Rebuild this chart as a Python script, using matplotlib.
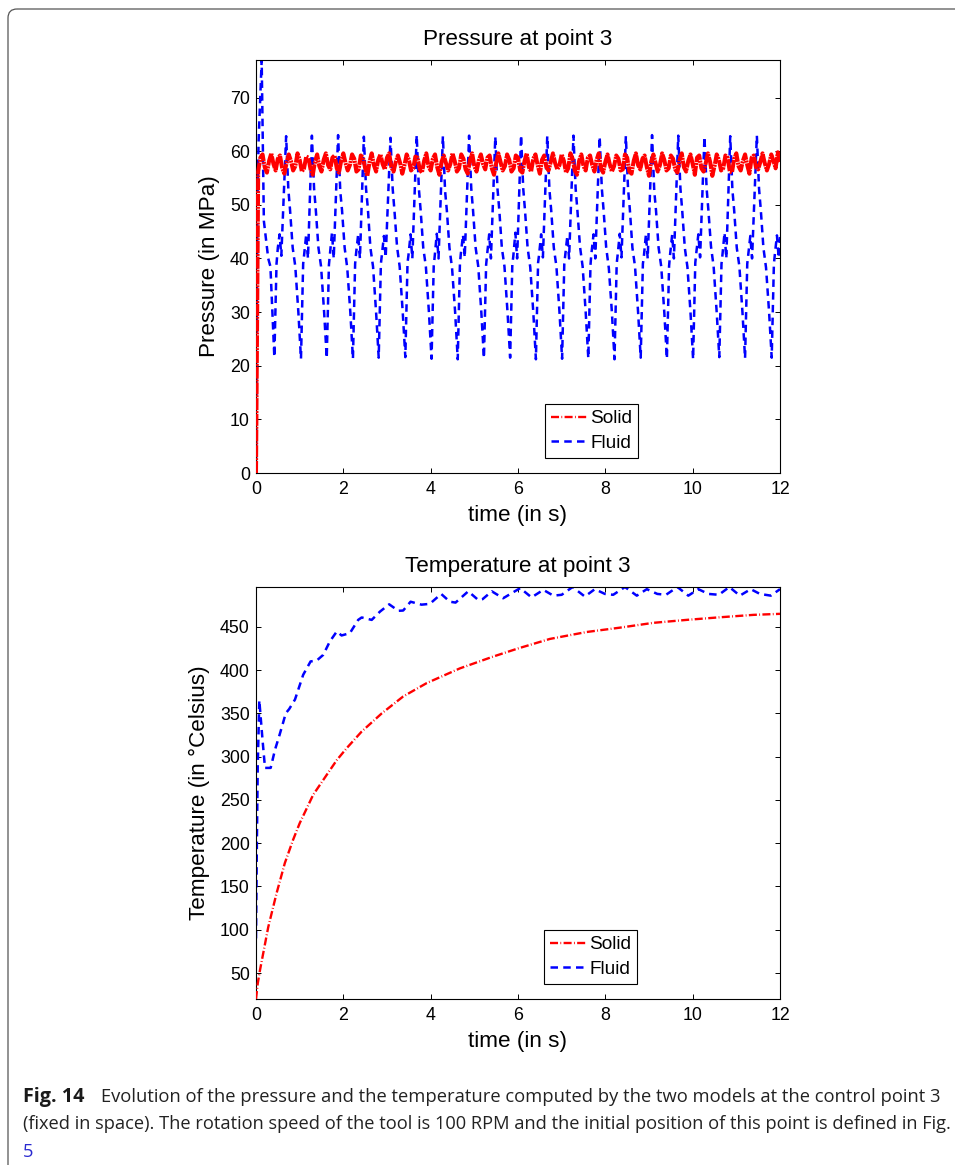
import numpy as np
import matplotlib
matplotlib.use("Agg")
import matplotlib.pyplot as plt
from matplotlib.patches import FancyBboxPatch

plt.rcParams['font.family'] = ['Liberation Sans', 'DejaVu Sans']

# pressure, fluid model (s, MPa)
fluid_p_t = [0, .03, .06, .13, .18, .28, .33, .42, .47, .50, .54, .58,
             .69, .74, .78, .84, .90, .97, 1.03, 1.08, 1.10, 1.15, 1.19,
             1.28, 1.33, 1.37, 1.43, 1.49, 1.56, 1.62, 1.67, 1.69, 1.74, 1.78,
             1.88, 1.93, 1.97, 2.03, 2.09, 2.16, 2.22, 2.27, 2.29, 2.34, 2.38,
             2.47, 2.52, 2.56, 2.62, 2.68, 2.75, 2.81, 2.86, 2.88, 2.93, 2.97,
             3.08, 3.13, 3.17, 3.23, 3.29, 3.36, 3.42, 3.47, 3.49, 3.54, 3.58,
             3.68, 3.73, 3.77, 3.83, 3.89, 3.96, 4.02, 4.07, 4.09, 4.14, 4.18,
             4.28, 4.33, 4.37, 4.43, 4.49, 4.56, 4.62, 4.67, 4.69, 4.74, 4.78,
             4.88, 4.93, 4.97, 5.03, 5.09, 5.16, 5.22, 5.27, 5.29, 5.34, 5.38,
             5.48, 5.53, 5.57, 5.63, 5.69, 5.76, 5.82, 5.87, 5.89, 5.94, 5.98,
             6.07, 6.12, 6.16, 6.22, 6.28, 6.35, 6.41, 6.46, 6.48, 6.53, 6.57,
             6.67, 6.72, 6.76, 6.82, 6.88, 6.95, 7.01, 7.06, 7.08, 7.13, 7.17,
             7.27, 7.32, 7.36, 7.42, 7.48, 7.55, 7.61, 7.66, 7.68, 7.73, 7.77,
             7.87, 7.92, 7.96, 8.02, 8.08, 8.15, 8.21, 8.26, 8.28, 8.33, 8.37,
             8.47, 8.52, 8.56, 8.62, 8.68, 8.75, 8.81, 8.86, 8.88, 8.93, 8.97,
             9.07, 9.12, 9.16, 9.22, 9.28, 9.35, 9.41, 9.46, 9.48, 9.53, 9.57,
             9.67, 9.72, 9.76, 9.82, 9.88, 9.95, 10.01, 10.06, 10.08, 10.13, 10.17,
             10.27, 10.32, 10.36, 10.42, 10.48, 10.55, 10.61, 10.66, 10.68, 10.73, 10.77,
             10.86, 10.91, 10.95, 11.01, 11.07, 11.14, 11.20, 11.25, 11.27, 11.32, 11.36,
             11.47, 11.52, 11.56, 11.62, 11.68, 11.75, 11.81, 11.86, 11.88, 11.93, 11.97,
             12.0]
fluid_p = [0, 50, 62, 77, 47, 40, 38.5, 21.6, 39, 42, 44.5, 40.5,
           62.8, 53, 49, 42, 38.5, 30, 21.3, 39, 40.5, 44.5, 40,
           62.9, 53, 49, 42, 38.5, 30, 21.4, 38.8, 40.5, 44.8, 40,
           63, 52.5, 49, 42, 38.2, 30, 21.3, 39, 40.8, 44.5, 40,
           62.7, 53, 49.5, 42, 38.5, 30, 21.5, 39, 40.5, 44.2, 40.2,
           62.5, 53, 49, 42.2, 38.5, 30, 21.6, 39.2, 40.5, 44.5, 40,
           63, 53, 49, 42, 38.5, 30, 21.3, 38.6, 40.2, 44.6, 40,
           62.8, 52.6, 49, 42, 38.2, 30, 21.2, 39, 40.8, 44.4, 40.2,
           62.9, 53, 49, 42, 38.5, 30, 21.4, 38.8, 40.5, 44.5, 40,
           62.7, 53, 49.2, 42, 38.5, 30, 21.5, 39, 40.2, 44.8, 40,
           63, 53, 49, 42, 38.4, 30, 21.2, 39.2, 40.5, 44.5, 40.2,
           62.8, 52.8, 49, 42, 38.5, 30, 21.3, 39, 40.5, 44.2, 40,
           62.9, 53, 49, 42.2, 38.5, 30, 21.4, 38.8, 40.8, 44.5, 40,
           62.7, 53, 49, 42, 38.2, 30, 21.2, 39, 40.5, 44.6, 40.2,
           62.8, 53, 49.3, 42, 38.5, 30, 21.5, 39, 40.2, 44.5, 40,
           63, 52.6, 49, 42, 38.5, 30, 21.3, 38.6, 40.5, 44.4, 40,
           62.9, 53, 49, 42, 38.4, 30, 21.2, 39.2, 40.8, 44.5, 40.2,
           62.7, 53, 49, 42.2, 38.5, 30, 21.6, 39, 40.5, 44.8, 40,
           62.8, 52.8, 49, 42, 38.5, 30, 21.4, 39, 40.5, 44.2, 40,
           62.9, 53, 49.1, 42, 38.3, 30, 21.5, 38.9, 40.6, 44.3, 40.1,
           44]

# pressure, solid model: samples are evenly spaced over 0-12 s
solid_p = [0, 56.2, 58.8, 59.4, 57.0, 56.0, 58.2, 59.6, 57.6, 56.4, 58.6, 59.2,
           56.8, 55.8, 57.8, 59.4, 58.2, 56.4, 57.2, 59.6, 58.4, 56.2, 56.8, 59.0,
           58.8, 56.6, 55.6, 58.0, 59.4, 57.2, 56.2, 58.4, 59.6, 57.4, 56.6, 58.8,
           59.2, 56.8, 56.0, 58.2, 59.6, 57.8, 56.4, 57.4, 59.4, 58.6, 56.2, 56.6,
           59.2, 58.8, 56.8, 55.4, 58.0, 59.6, 57.4, 56.2, 58.4, 59.4, 57.6, 56.6,
           58.8, 59.6, 57.0, 56.2, 58.0, 59.2, 57.8, 55.8, 57.4, 59.4, 58.4, 56.4,
           56.8, 59.0, 58.8, 56.6, 56.0, 58.2, 59.6, 57.2, 56.4, 58.6, 59.4, 57.0,
           55.6, 58.0, 59.2, 57.8, 56.4, 57.6, 59.6, 58.2, 56.2, 56.8, 59.4, 58.6,
           56.6, 55.8, 58.4, 59.6, 57.2, 56.2, 58.2, 59.4, 57.6, 56.6, 58.8, 59.2,
           56.8, 55.6, 57.8, 59.6, 58.0, 56.4, 57.2, 59.4, 58.4, 56.2, 56.8, 59.2,
           58.8, 56.4, 56.0, 58.2, 59.6, 57.0, 56.2, 58.6, 59.4, 57.4, 55.8, 58.4,
           59.2, 57.0, 56.4, 58.0, 59.6, 57.8, 56.6, 57.4, 59.4, 58.2, 56.0, 56.8,
           59.6, 58.6, 56.4, 55.6, 58.2, 59.4, 57.2, 56.4, 58.8, 59.2, 57.4, 56.2,
           58.4, 59.6, 56.8, 56.0, 58.0, 59.4, 57.6, 56.2, 57.2, 59.2, 58.6, 56.4,
           56.6, 59.4, 58.8, 56.2, 55.8, 58.2, 59.6, 57.4, 56.6, 58.6, 59.2, 57.0,
           55.4, 58.0, 59.4, 57.8, 56.2, 57.4, 59.6, 58.4, 56.4, 56.8, 59.2, 58.6,
           56.6, 56.0, 58.4, 59.6, 57.0, 56.2, 58.2, 59.4, 57.6, 55.6, 58.8, 59.2,
           56.8, 56.2, 57.8, 59.6, 58.0, 55.4, 57.2, 59.4, 58.4, 56.4, 56.8, 59.2,
           58.8, 56.2, 56.0, 58.6, 59.6, 57.2, 56.4, 58.2, 59.4, 57.4, 55.8, 58.8,
           59.2, 57.0, 56.6, 58.0, 59.6, 57.8, 56.4, 57.6, 59.4, 58.2, 56.8, 59.8,
           58.0]

# temperature, fluid model (s, deg C)
fluid_T_t = [0, .02, .04, .076, .15, .206, .336, .435, .527, .625, .68, .76, .893,
             1.08, 1.25, 1.39, 1.54, 1.69, 1.85, 1.96, 2.15, 2.34, 2.42, 2.65, 2.84,
             3.05, 3.26, 3.37, 3.54, 3.79, 3.98, 4.24, 4.44, 4.57, 4.86, 5.09, 5.19,
             5.4, 5.66, 6.05, 6.31, 6.58, 6.81, 7.0, 7.25, 7.53, 7.76, 7.99, 8.18,
             8.45, 8.72, 8.95, 9.19, 9.39, 9.65, 9.9, 10.13, 10.36, 10.6, 10.84,
             11.08, 11.33, 11.54, 11.79, 12.0]
fluid_T = [90, 200, 290, 365, 319, 287, 287, 308, 323, 340, 350, 355, 366,
           394.5, 410, 411, 417.6, 433, 444.6, 440, 442.7, 458, 460.8, 458, 467.6,
           476, 468.5, 468.8, 479, 475.6, 476.5, 488, 479, 478, 491, 481, 482,
           491, 483, 494.7, 484, 492.7, 486, 487, 496, 485, 493.5, 488, 487,
           496, 486, 493.5, 488, 487, 496, 486, 493.5, 488, 487, 496,
           486, 493.5, 488, 486, 493.5]

# temperature, solid model
solid_T_t = [0, .04, .09, .28, .47, .66, .85, 1.0, 1.31, 1.62, 1.85, 2.08, 2.42,
             2.88, 3.37, 3.91, 4.67, 5.43, 6.0, 6.73, 7.57, 8.33, 9.1, 9.86,
             10.62, 11.39, 12.0]
solid_T = [20, 38, 53, 103, 142, 177, 204, 223, 256, 279, 296, 310, 329,
           350, 369.5, 385, 402, 415.6, 425, 436, 444, 449, 454.6, 458,
           461, 463.8, 465]

x_ticks = [0, 2, 4, 6, 8, 10, 12]
p_ticks = [0, 10, 20, 30, 40, 50, 60, 70]
T_ticks = [50, 100, 150, 200, 250, 300, 350, 400, 450]

W, H = 955, 1165
SOLID_STYLE = (0, (3.4, 1.0, 0.35, 1.0))
FLUID_STYLE = (0, (3.0, 2.1))


def panel(top, bottom, title, ylabel, ylim, yticks, label_x):
    ax = fig.add_axes([256 / W, 1 - bottom / H, 524 / W, (bottom - top) / H])
    ax.set_xlim(0, 12)
    ax.set_ylim(*ylim)
    ax.set_xticks(x_ticks)
    ax.set_yticks(yticks)
    ax.tick_params(direction='in', top=True, right=True, length=3.8, width=0.7,
                   labelsize=12.8, pad=4.5)
    ax.tick_params(axis='x', pad=6)
    ax.set_title(title, fontsize=16.2, pad=11)
    ax.set_xlabel('time (in s)', fontsize=16.2, labelpad=5)
    ax.set_ylabel(ylabel, fontsize=16.2)
    ax.yaxis.set_label_coords((label_x - 256) / 524, 0.5)
    for s in ax.spines.values():
        s.set_linewidth(0.8)
    return ax


def add_legend(ax, left, top):
    leg = ax.legend(loc='upper left',
                    bbox_to_anchor=((left - 256) / 524, top),
                    fontsize=13.7, fancybox=False, edgecolor='black', framealpha=1,
                    borderaxespad=0, handlelength=1.9, handletextpad=0.15,
                    labelspacing=0.36, borderpad=0.32)
    leg.get_frame().set_linewidth(0.8)
    return leg


fig = plt.figure(figsize=(W / 100, H / 100), dpi=100)

# page frame and caption go on a full-figure layer in pixel units
bg = fig.add_axes([0, 0, 1, 1], zorder=-1)
bg.set_xlim(0, W)
bg.set_ylim(H, 0)
bg.axis('off')
bg.add_patch(FancyBboxPatch((8, 9), 1200, 1400, boxstyle='round,pad=0,rounding_size=9',
                            fc='none', ec='#555555', lw=0.9, clip_on=True))
bg.text(23, 1097, 'Fig. 14', family='Open Sans', weight='bold', fontsize=14.2,
        va='center', color='#1a1a1a')
bg.text(101, 1097, 'Evolution of the pressure and the temperature computed by the two models at the control point 3',
        family='Open Sans', fontsize=13.25, va='center', color='#222222')
bg.text(23, 1124, '(fixed in space). The rotation speed of the tool is 100 RPM and the initial position of this point is defined in Fig.',
        family='Open Sans', fontsize=13.15, va='center', color='#222222')
bg.text(23, 1152, '5', family='Open Sans', fontsize=13.2, va='center', color='#2a2ad0')

ax1 = panel(60, 473, 'Pressure at point 3', 'Pressure (in MPa)', (0, 77), p_ticks, 220)
# the solid trace overlaps itself into a thick band, the legend keeps the thin key
ax1.plot(np.linspace(0, 12, len(solid_p)), solid_p, color='#ff0000', lw=2.9,
         linestyle=(0, (3.0, 0.2, 0.5, 0.2)), zorder=3)
ax1.plot([], [], color='#ff0000', lw=1.7, linestyle=SOLID_STYLE, label='Solid')
ax1.plot(fluid_p_t, fluid_p, color='#0000ff', lw=1.8, linestyle=FLUID_STYLE,
         label='Fluid', zorder=2)
add_legend(ax1, 545, (473 - 404) / 413)

ax2 = panel(587, 999, 'Temperature at point 3', 'Temperature (in \u00b0Celsius)', (20, 496), T_ticks, 210)
ax2.plot(solid_T_t, solid_T, color='#ff0000', lw=1.7, linestyle=SOLID_STYLE, label='Solid', zorder=3)
ax2.plot(fluid_T_t, fluid_T, color='#0000ff', lw=1.8, linestyle=FLUID_STYLE, label='Fluid', zorder=2)
add_legend(ax2, 544, (999 - 930) / 412)

fig.savefig('out.png', dpi=100, facecolor='white')
